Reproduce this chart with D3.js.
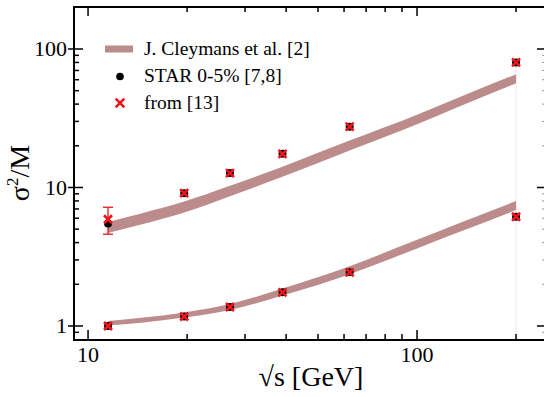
<!DOCTYPE html>
<html>
<head>
<meta charset="utf-8">
<script src="https://cdnjs.cloudflare.com/ajax/libs/d3/7.8.5/d3.min.js"></script>
<style>
  body { margin: 0; background: #fff; }
  svg { display: block; }
  text { font-family: "Liberation Serif", "Times New Roman", serif; fill: #000; }
</style>
</head>
<body>
<svg id="chart" width="544" height="397"></svg>
<script>
// sqrt(s) of the STAR energies
var energies = [11.5, 19.6, 27, 39, 62.4, 200];

// STAR 0-5% data (black dots), upper and lower set
var starUpper = [5.5, 9.1, 12.7, 17.5, 27.5, 80];
var starLower = [1.0, 1.17, 1.37, 1.75, 2.44, 6.15];

// values from [13] (red crosses)
var refUpper = [5.9, 9.1, 12.7, 17.5, 27.5, 80];
var refLower = [1.0, 1.17, 1.37, 1.75, 2.44, 6.15];
var refUpperErr = [[4.6, 7.2], null, null, null, null, null];

// J. Cleymans et al. bands
var modelEnergies = [11.5, 14.5, 19.6, 27, 39, 62.4, 100, 130, 200];
var modelUpperLo = [4.69, 5.41, 6.61, 8.66, 11.95, 18.5, 28.65, 37.2, 56.6];
var modelUpperHi = [5.63, 6.50, 7.91, 10.29, 14.14, 21.8, 33.54, 43.4, 65.8];
var modelLowerLo = [1.007, 1.057, 1.149, 1.304, 1.660, 2.367, 3.631, 4.628, 6.865];
var modelLowerHi = [1.085, 1.145, 1.253, 1.440, 1.866, 2.705, 4.189, 5.358, 7.977];

var xTickLabels = [10, 100];
var yTickLabels = [1, 10, 100];
var legendLabels = ["J. Cleymans et al. [2]", "STAR 0-5% [7,8]", "from [13]"];

var bandColor = "#bc8b8b";
// (window.top is taken, so the box edges get their own names)
var boxL = 73, boxR = 544, boxT = 6, boxB = 340;

var svg = d3.select("#chart");

var x = d3.scaleLog().domain([9.0, 243.2]).range([boxL, boxR]);
var y = d3.scaleLog().domain([0.792, 204.4]).range([boxB, boxT]);

// faint line at 200 GeV
svg.append("line")
  .attr("x1", x(200)).attr("x2", x(200))
  .attr("y1", y(75)).attr("y2", boxB)
  .attr("stroke", "#f1e6e6").attr("stroke-width", 1);

function drawBand(lo, hi) {
  var rows = modelEnergies.map(function(e, i) { return {e: e, lo: lo[i], hi: hi[i]}; });
  var area = d3.area()
    .curve(d3.curveMonotoneX)
    .x(function(d) { return x(d.e); })
    .y0(function(d) { return y(d.lo); })
    .y1(function(d) { return y(d.hi); });
  svg.append("path").datum(rows)
    .attr("d", area)
    .attr("fill", bandColor);
}
drawBand(modelUpperLo, modelUpperHi);
drawBand(modelLowerLo, modelLowerHi);

// error bars
energies.forEach(function(e, i) {
  var err = refUpperErr[i];
  if (!err) return;
  var g = svg.append("g").attr("stroke", "#e8141a").attr("stroke-width", 1.3);
  g.append("line").attr("x1", x(e)).attr("x2", x(e)).attr("y1", y(err[0])).attr("y2", y(err[1]));
  g.append("line").attr("x1", x(e) - 5).attr("x2", x(e) + 5).attr("y1", y(err[0])).attr("y2", y(err[0]));
  g.append("line").attr("x1", x(e) - 5).attr("x2", x(e) + 5).attr("y1", y(err[1])).attr("y2", y(err[1]));
});

function drawDots(vals) {
  svg.append("g").selectAll("circle").data(vals).enter().append("circle")
    .attr("cx", function(d, i) { return x(energies[i]); })
    .attr("cy", function(d) { return y(d); })
    .attr("r", 4)
    .attr("fill", "#000");
}
function crossPath(cx, cy, s) {
  return "M" + (cx - s) + "," + (cy - s) + "L" + (cx + s) + "," + (cy + s) +
         "M" + (cx - s) + "," + (cy + s) + "L" + (cx + s) + "," + (cy - s);
}
function drawCrosses(vals) {
  svg.append("g").selectAll("path").data(vals).enter().append("path")
    .attr("d", function(d, i) { return crossPath(x(energies[i]), y(d), 4); })
    .attr("stroke", "#f0141c")
    .attr("stroke-width", 2.6)
    .attr("fill", "none");
}
drawDots(starUpper);
drawDots(starLower);
drawCrosses(refUpper);
drawCrosses(refLower);

// frame
var frame = svg.append("g").attr("stroke", "#000").attr("stroke-width", 2).attr("fill", "none");
frame.append("line").attr("x1", boxL).attr("x2", boxR).attr("y1", boxT + 1).attr("y2", boxT + 1);
frame.append("line").attr("x1", boxL).attr("x2", boxR).attr("y1", boxB).attr("y2", boxB);
frame.append("line").attr("x1", boxL + 1).attr("x2", boxL + 1).attr("y1", boxT).attr("y2", boxB + 1);

// ticks
var xTicks = x.ticks().filter(function(t) { return x(t) > boxL + 2 && x(t) < boxR - 2; });
var yTicks = y.ticks().filter(function(t) { return y(t) > boxT + 3 && y(t) < boxB - 2; });
function isMajor(t) { return Math.abs(Math.log10(t) - Math.round(Math.log10(t))) < 1e-9; }

var tk = svg.append("g").attr("stroke", "#000").attr("stroke-width", 1.5);
xTicks.forEach(function(t) {
  var len = isMajor(t) ? 10 : 6;
  tk.append("line").attr("x1", x(t)).attr("x2", x(t)).attr("y1", boxB).attr("y2", boxB - len);
  tk.append("line").attr("x1", x(t)).attr("x2", x(t)).attr("y1", boxT).attr("y2", boxT + len);
});
yTicks.forEach(function(t) {
  var maj = isMajor(t);
  tk.append("line").attr("x1", maj ? boxL - 5 : boxL).attr("x2", boxL + (maj ? 10 : 6))
    .attr("y1", y(t)).attr("y2", y(t));
  // ticks of the neighbouring panel at the right edge
  tk.append("line").attr("x1", maj ? boxR - 7 : boxR - 2).attr("x2", boxR)
    .attr("y1", y(t)).attr("y2", y(t))
    .attr("stroke", maj ? "#000" : "#999").attr("stroke-width", maj ? 1.5 : 1);
});

// tick labels
svg.append("g").selectAll("text").data(xTickLabels).enter().append("text")
  .attr("x", function(d) { return x(d); })
  .attr("y", 362)
  .attr("text-anchor", "middle")
  .style("font-size", "22px")
  .text(function(d) { return d; });
svg.append("g").selectAll("text").data(yTickLabels).enter().append("text")
  .attr("x", 67)
  .attr("y", function(d) { return y(d) + 7.5; })
  .attr("text-anchor", "end")
  .style("font-size", "22px")
  .text(function(d) { return d; });

// axis titles
svg.append("text")
  .attr("x", 311).attr("y", 386)
  .attr("text-anchor", "middle")
  .style("font-size", "28px")
  .text("\u221As [GeV]");

var yt = svg.append("text")
  .attr("transform", "translate(29,173) rotate(-90)")
  .attr("text-anchor", "middle")
  .style("font-size", "28px");
yt.append("tspan").text("\u03C3");
yt.append("tspan").attr("dy", -11).style("font-size", "17px").text("2");
yt.append("tspan").attr("dy", 11).text("/M");

// legend
var leg = svg.append("g");
leg.append("line").attr("x1", 105).attr("x2", 133).attr("y1", 49).attr("y2", 49)
  .attr("stroke", bandColor).attr("stroke-width", 7);
leg.append("circle").attr("cx", 120).attr("cy", 76.5).attr("r", 3.8).attr("fill", "#000");
leg.append("path").attr("d", crossPath(120, 103, 4.3))
  .attr("stroke", "#f0141c").attr("stroke-width", 2.6).attr("fill", "none");
leg.selectAll("text").data(legendLabels).enter().append("text")
  .attr("x", 144)
  .attr("y", function(d, i) { return 55 + i * 27; })
  .style("font-size", "19.5px")
  .text(function(d) { return d; });
</script>
</body>
</html>
